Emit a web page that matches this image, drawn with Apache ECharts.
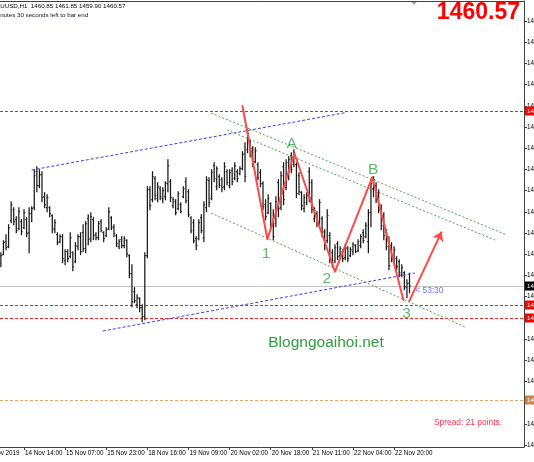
<!DOCTYPE html>
<html><head><meta charset="utf-8">
<script src="https://cdn.jsdelivr.net/npm/echarts@6/dist/echarts.min.js"></script>
<style>html,body{margin:0;padding:0;background:#fff;overflow:hidden}#c{width:534px;height:462px}</style>
</head><body><div id="c"></div>
<script>
// ---- data (bar index 0 = 14 Nov 14:00, H1 bars) ----
const firstBar = -9;
const barOpen = [1462.8,1463.7,1465.0,1464.5,1467.1,1468.2,1467.2,1466.3,1467.0,
1466.4,1467.2,1465.9,1467.8,1468.4,1472.0,1470.6,1471.7,1469.5,1468.4,
1468.4,1467.6,1466.2,1465.7,1465.0,1465.5,1463.1,1464.0,1463.5,1463.9,
1463.0,1464.5,1465.5,1465.9,1464.3,1467.3,1465.3,1467.2,1465.7,1465.4,
1467.0,1465.9,1465.6,1466.3,1467.4,1466.5,1465.6,1464.5,1465.2,1464.6,
1465.1,1463.6,1461.8,1460.0,1458.7,1459.3,1458.4,1457.5,1463.6,1470.2,
1469.2,1471.3,1469.3,1470.3,1469.3,1469.5,1470.8,1471.0,1468.6,1469.0,
1468.3,1468.7,1469.5,1471.0,1470.0,1467.4,1466.9,1465.3,1465.3,1467.4,
1465.4,1468.4,1471.1,1469.3,1472.6,1470.5,1471.5,1471.2,1470.5,1472.0,
1470.6,1472.1,1471.3,1472.0,1471.8,1472.3,1473.8,1474.2,1475.0,1474.3,
1473.0,1472.7,1471.9,1470.8,1468.7,1467.9,1468.8,1466.6,1466.8,1470.9,
1468.4,1472.5,1470.4,1471.5,1473.6,1472.7,1472.7,1471.6,1469.9,1468.3,
1468.9,1472.0,1470.9,1467.3,1467.8,1466.9,1467.3,1466.0,1465.1,1465.6,
1463.9,1463.1,1464.8,1463.6,1464.0,1463.4,1464.3,1463.6,1464.0,1464.6,
1464.1,1464.6,1465.9,1465.5,1465.0,1467.9,1470.3,1470.6,1469.9,1468.4,
1467.5,1465.9,1465.0,1464.6,1463.1,1463.3,1463.0,1461.7,1461.9,1460.4,
1460.85];
const barHigh = [1463.9,1465.1,1465.7,1466.7,1469.0,1468.4,1467.5,1468.4,1467.2,
1468.2,1467.4,1468.4,1468.5,1472.2,1472.5,1472.2,1472.0,1469.9,1469.7,
1468.5,1467.7,1467.2,1465.9,1465.7,1465.7,1464.2,1464.2,1465.9,1464.0,
1464.9,1465.7,1465.9,1466.7,1467.0,1467.7,1467.9,1467.4,1465.9,1467.0,
1467.2,1466.0,1466.4,1468.4,1467.5,1466.7,1465.7,1465.2,1465.5,1465.5,
1465.2,1463.7,1462.7,1460.4,1459.7,1459.4,1458.7,1463.9,1470.5,1470.5,
1472.0,1471.5,1470.9,1470.5,1470.4,1471.0,1473.2,1471.2,1469.4,1469.2,
1470.0,1468.9,1470.5,1471.4,1470.2,1467.5,1467.2,1465.5,1467.2,1467.7,
1469.0,1471.5,1471.4,1472.2,1472.9,1472.5,1471.7,1471.4,1472.9,1472.2,
1472.2,1472.4,1472.9,1472.2,1472.5,1474.0,1474.9,1476.2,1475.2,1474.5,
1474.4,1472.9,1472.2,1471.0,1469.2,1469.7,1468.9,1468.2,1469.5,1471.2,
1472.0,1472.9,1473.2,1473.5,1473.9,1474.2,1472.9,1471.9,1470.0,1469.7,
1469.9,1472.4,1471.2,1468.4,1468.0,1469.2,1467.5,1466.2,1468.2,1465.9,
1464.2,1464.7,1465.0,1464.5,1464.2,1464.7,1464.5,1464.4,1464.9,1464.7,
1465.2,1465.7,1466.2,1466.9,1468.2,1471.2,1471.5,1470.9,1470.2,1468.7,
1467.9,1466.2,1465.5,1464.9,1464.5,1463.5,1463.2,1462.7,1462.0,1461.2,
1461.85];
const barLow = [1462.5,1463.7,1464.2,1464.4,1466.9,1466.7,1465.9,1466.2,1465.7,
1466.3,1465.5,1463.9,1467.0,1468.2,1470.0,1470.4,1469.0,1468.4,1468.0,
1467.5,1465.9,1465.9,1464.7,1464.9,1462.9,1462.7,1463.0,1463.4,1462.1,
1462.9,1464.2,1463.7,1464.0,1463.9,1464.7,1465.0,1465.2,1465.2,1465.2,
1466.0,1465.0,1465.5,1466.2,1466.2,1465.5,1464.5,1464.3,1464.4,1464.4,
1463.5,1461.4,1458.5,1458.9,1458.4,1458.0,1457.0,1457.2,1463.4,1468.2,
1469.0,1469.2,1469.0,1469.2,1468.9,1469.2,1470.0,1469.0,1468.4,1467.7,
1468.2,1467.9,1469.4,1468.9,1467.5,1465.9,1464.9,1464.2,1465.2,1465.9,
1465.0,1468.0,1468.5,1469.2,1471.0,1470.2,1470.4,1470.0,1470.2,1470.7,
1470.4,1470.7,1471.2,1471.0,1471.7,1472.2,1471.0,1473.9,1473.5,1472.5,
1472.9,1471.2,1470.5,1468.2,1467.2,1467.8,1466.2,1465.2,1466.5,1467.5,
1468.2,1468.7,1470.2,1471.2,1471.9,1472.5,1469.4,1469.7,1468.2,1468.0,
1468.7,1469.0,1467.9,1467.0,1466.5,1466.7,1465.5,1464.2,1464.9,1462.9,
1462.5,1462.9,1463.2,1463.4,1463.0,1463.2,1463.0,1463.5,1463.7,1463.9,
1464.0,1464.4,1464.9,1465.4,1463.9,1466.5,1469.5,1468.9,1467.9,1466.2,
1465.2,1464.2,1462.2,1463.0,1462.9,1462.2,1461.5,1461.5,1460.2,1459.4,
1459.90];
const barClose = [1463.6,1464.9,1464.4,1466.4,1468.7,1467.0,1466.1,1468.0,1466.0,
1467.9,1465.8,1467.8,1468.3,1471.6,1470.6,1471.7,1469.4,1468.7,1469.4,
1467.8,1466.3,1466.9,1464.9,1465.5,1463.3,1464.0,1463.3,1465.4,1462.5,
1464.6,1465.5,1464.0,1464.3,1466.8,1465.2,1467.5,1465.6,1465.4,1466.8,
1466.1,1465.3,1466.2,1468.0,1466.4,1465.8,1464.8,1465.0,1464.6,1465.3,
1463.8,1461.8,1459.0,1459.1,1459.4,1458.4,1457.5,1463.6,1470.2,1468.6,
1471.5,1469.6,1470.5,1469.5,1470.1,1470.8,1472.6,1469.4,1469.2,1467.9,
1469.8,1468.0,1470.3,1469.1,1467.7,1466.1,1465.1,1464.6,1466.9,1466.1,
1468.7,1471.2,1468.9,1471.9,1471.3,1472.3,1470.6,1470.4,1472.5,1470.9,
1471.9,1471.0,1472.6,1471.3,1472.3,1473.7,1471.5,1475.8,1473.8,1472.9,
1474.1,1471.4,1470.8,1468.5,1467.5,1469.3,1466.5,1465.5,1469.0,1468.3,
1471.6,1469.2,1472.9,1473.2,1472.2,1473.9,1469.8,1470.0,1468.6,1469.4,
1469.6,1469.4,1468.2,1468.1,1466.8,1468.9,1465.9,1464.6,1467.6,1463.3,
1462.9,1464.4,1463.5,1464.3,1463.3,1464.4,1463.3,1464.2,1464.7,1464.0,
1465.0,1465.5,1465.1,1466.6,1467.9,1470.8,1471.2,1469.2,1468.2,1466.6,
1465.6,1464.5,1462.6,1463.3,1464.2,1462.5,1461.9,1462.4,1460.5,1460.8,
1460.57];

const timeTickIdx = [-16,0,16,32,48,64,80,96,112,128,144];
const timeTickLabels = ['14 Nov 2019','14 Nov 14:00','15 Nov 07:00','15 Nov 23:00','18 Nov 16:00','19 Nov 09:00','20 Nov 02:00','20 Nov 18:00','21 Nov 11:00','22 Nov 04:00','22 Nov 20:00'];
const priceTicks = [1444.66,1446.78,1448.90,1451.02,1453.14,1455.26,1457.38,1459.50,1461.62,1463.74,1465.86,1467.98,1470.10,1472.22,1474.34,1476.46,1478.58,1480.70,1482.82,1484.94,1487.06];

const bidPrice = 1460.57;
const redLevels = [1478.07, 1458.67, 1457.37];
const orangeLevels = [1449.17];

const blueUpper = [[3.0,1472.17],[124.9,1477.9]];
const blueLower = [[30.7,1456.07],[152.1,1461.87]];
const greenUpper1 = [[72.8,1477.87],[187.9,1465.67]];
const greenUpper2 = [[79.0,1476.17],[183.3,1465.17]];
const greenLower = [[72.8,1467.87],[171.6,1456.47]];

const waveIdx = [85.0, 94.7, 105.2, 121.0, 135.5, 147.6];
const wavePrice = [1478.57, 1465.24, 1473.84, 1462.0, 1471.44, 1459.17];
const arrowIdx = [149.8, 162.5];
const arrowPrice = [1459.0, 1466.0];

const waveNames = ['1','A','2','B','3'];
const waveNameIdx = [94.2, 104.2, 117.8, 135.9, 148.9];
const waveNamePrice = [1463.84, 1474.84, 1461.34, 1472.17, 1457.84];

const countdownText = '< 53:30';
const countdownPos = [152.1, 1460.07];
const headerSymbol = 'XAUUSD,H1';
const headerTimer = '53 minutes 30 seconds left to bar end';
const spreadText = 'Spread: 21 points.';
const watermark = 'Blogngoaihoi.net';

// ---- chart ----
const FONT = '"Liberation Sans", Arial, sans-serif';
const xMin = (-20 - 24) / 2.57, xMax = (524 - 24) / 2.57;
const yMax = 1489.07, yMin = 1444.47;

const bars = barOpen.map((o, j) => [firstBar + j, o, barHigh[j], barLow[j], barClose[j]]);
const n = barOpen.length - 1;

function renderBar(params, api) {
  const i = api.value(0);
  const pO = api.coord([i, api.value(1)]);
  const pH = api.coord([i, api.value(2)]);
  const pL = api.coord([i, api.value(3)]);
  const pC = api.coord([i, api.value(4)]);
  const x = pH[0];
  const st = { stroke: '#1a1a1a', lineWidth: 1.25 };
  const tk = { stroke: '#1a1a1a', lineWidth: 1 };
  return { type: 'group', children: [
    { type: 'line', shape: { x1: x, y1: pH[1] - 0.5, x2: x, y2: pL[1] + 0.5 }, style: st },
    { type: 'line', shape: { x1: x - 1.3, y1: pO[1], x2: x, y2: pO[1] }, style: tk },
    { type: 'line', shape: { x1: x, y1: pC[1], x2: x + 1.3, y2: pC[1] }, style: tk }
  ]};
}

const lvlLabel = (bg) => ({
  show: true, position: 'end', distance: 1, formatter: p => Number(p.value).toFixed(2),
  color: '#fff', backgroundColor: bg, fontSize: 6.2, fontFamily: FONT, padding: [2, 1, 1, 2]
});
const markData = [];
redLevels.forEach(v => markData.push({ yAxis: v, lineStyle: { color: '#ff1a1a', type: [3, 2], width: 1 }, label: lvlLabel('#ff0000') }));
orangeLevels.forEach(v => markData.push({ yAxis: v, lineStyle: { color: '#e4a66a', type: [3, 2], width: 1 }, label: lvlLabel('#c8844a') }));
markData.push({ yAxis: bidPrice, lineStyle: { color: '#c4c4c4', type: 'solid', width: 1 }, label: lvlLabel('#000000') });

const trend = (pts, color, dash) => ({
  type: 'line', data: pts, symbol: 'none', silent: true, z: 3,
  lineStyle: { color: color, width: 1, type: dash }
});

const chart = echarts.init(document.getElementById('c'), null, { renderer: 'canvas' });
chart.setOption({
  animation: false,
  backgroundColor: '#ffffff',
  textStyle: { fontFamily: FONT },
  grid: { left: -20, right: 10, top: 1, bottom: 15, containLabel: false, outerBoundsMode: 'none' },
  xAxis: [{
    type: 'value', min: xMin, max: xMax, position: 'bottom',
    splitLine: { show: false },
    axisLine: { show: true, onZero: false, lineStyle: { color: '#404040', width: 1 } },
    axisTick: { show: true, customValues: timeTickIdx, length: 3, lineStyle: { color: '#404040' } },
    axisLabel: { customValues: timeTickIdx, formatter: v => timeTickLabels[timeTickIdx.indexOf(v)] || '',
      align: 'left', margin: 3.5, fontSize: 6.3, color: '#000', fontFamily: FONT, hideOverlap: false, padding: [0, 0, 0, 1] }
  }, {
    type: 'value', min: xMin, max: xMax, position: 'top',
    splitLine: { show: false }, axisTick: { show: false }, axisLabel: { show: false },
    axisLine: { show: true, onZero: false, lineStyle: { color: '#404040', width: 1 } }
  }],
  yAxis: {
    type: 'value', min: yMin, max: yMax, position: 'right',
    splitLine: { show: false },
    axisLine: { show: true, onZero: false, lineStyle: { color: '#404040', width: 1 } },
    axisTick: { show: true, customValues: priceTicks, length: 3, lineStyle: { color: '#404040' } },
    axisLabel: { customValues: priceTicks, formatter: v => Number(v).toFixed(2), margin: 3,
      fontSize: 6.3, color: '#000', fontFamily: FONT, hideOverlap: false }
  },
  series: [
    { type: 'custom', renderItem: renderBar, data: bars, encode: { x: 0, y: [2, 3] }, silent: true, z: 2, clip: true },
    { type: 'line', data: [], symbol: 'none', silent: true,
      markLine: { silent: true, symbol: ['none', 'none'], animation: false, data: markData, z: 1 } },
    trend(blueUpper, '#3d3dff', [3, 2]),
    trend(blueLower, '#3d3dff', [3, 2]),
    trend(greenUpper1, '#4aa84a', [2, 2]),
    trend(greenUpper2, '#4aa84a', [2, 2]),
    trend(greenLower, '#4aa84a', [2, 2]),
    { type: 'line', data: waveIdx.map((x, k) => [x, wavePrice[k]]), symbol: 'none', silent: true, z: 5,
      lineStyle: { color: '#ff4848', width: 2, join: 'round', cap: 'round' } },
    { type: 'lines', coordinateSystem: 'cartesian2d', silent: true, z: 5,
      data: [{ coords: arrowIdx.map((x, k) => [x, arrowPrice[k]]) }],
      symbol: ['none', 'arrow'], symbolSize: 9,
      lineStyle: { color: '#ff4848', width: 2, opacity: 1, curveness: 0 } },
    { type: 'scatter', silent: true, z: 6, symbolSize: 1, itemStyle: { color: 'rgba(0,0,0,0)' },
      data: waveNameIdx.map((x, k) => [x, waveNamePrice[k], waveNames[k]]),
      label: { show: true, position: 'inside', formatter: p => p.data[2], color: '#35a84c', fontSize: 15.5, fontFamily: FONT } },
    { type: 'scatter', silent: true, z: 6, symbolSize: 1, itemStyle: { color: 'rgba(0,0,0,0)' },
      data: [[countdownPos[0], countdownPos[1], countdownText]],
      label: { show: true, position: 'right', distance: 0, formatter: p => p.data[2], color: '#4848ff', fontSize: 8.3, fontFamily: FONT } }
  ],
  graphic: [
    { type: 'text', x: -8, y: 6, silent: true, style: {
      text: headerSymbol + '  ' + barOpen[n].toFixed(2) + ' ' + barHigh[n].toFixed(2) + ' ' + barLow[n].toFixed(2) + ' ' + barClose[n].toFixed(2),
      fill: '#000', font: '6.2px ' + FONT, verticalAlign: 'middle', textVerticalAlign: 'middle' } },
    { type: 'text', x: -15, y: 15, silent: true, style: { text: headerTimer, fill: '#101030', font: '6.2px ' + FONT, verticalAlign: 'middle', textVerticalAlign: 'middle' } },
    { type: 'text', x: 520, y: 13, silent: true, style: { text: bidPrice.toFixed(2), fill: '#ff0000', font: 'bold 23px ' + FONT, align: 'right', textAlign: 'right', verticalAlign: 'middle', textVerticalAlign: 'middle' } },
    { type: 'text', x: 434, y: 423, silent: true, style: { text: spreadText, fill: '#ff3350', font: '8.4px ' + FONT, verticalAlign: 'middle', textVerticalAlign: 'middle' } },
    { type: 'text', x: 326, y: 343, silent: true, style: { text: watermark, fill: '#2f9e3f', font: '15.5px ' + FONT, align: 'center', textAlign: 'center', verticalAlign: 'middle', textVerticalAlign: 'middle' } },
    { type: 'polygon', silent: true, shape: { points: [[411, 1.5], [417, 1.5], [414, 5]] }, style: { fill: '#a0a0a0' } }
  ]
});
</script>
</body></html>
